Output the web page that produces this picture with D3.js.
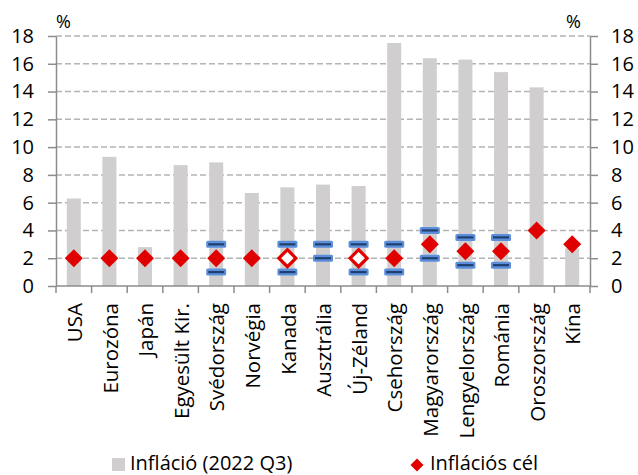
<!DOCTYPE html>
<html>
<head>
<meta charset="utf-8">
<script src="https://cdn.jsdelivr.net/npm/d3@7/dist/d3.min.js"></script>
<style>
  html, body { margin: 0; padding: 0; background: #fff; }
  svg { display: block; font-family: "Open Sans", sans-serif; }
</style>
</head>
<body>
<svg id="chart" width="638" height="475"></svg>
<script>
// Countries on the category axis
const categories = ["USA", "Eurozóna", "Japán", "Egyesült Kir.", "Svédország", "Norvégia",
  "Kanada", "Ausztrália", "Új-Zéland", "Csehország", "Magyarország", "Lengyelország",
  "Románia", "Oroszország", "Kína"];

// Inflation, 2022 Q3 (%)
const inflation = [6.3, 9.3, 2.8, 8.7, 8.9, 6.7, 7.1, 7.3, 7.2, 17.5, 16.4, 16.3, 15.4, 14.3, 2.7];

// Point inflation targets (solid marker)
const targetPoint = [2, 2, 2, 2, 2, 2, null, null, null, 2, 3, 2.5, 2.5, 4, 3];
// Midpoint of a target band (hollow marker)
const targetMid = [null, null, null, null, null, null, 2, null, 2, null, null, null, null, null, null];
// Tolerance band edges
const bandLow = [null, null, null, null, 1, null, 1, 2, 1, 1, 2, 1.5, 1.5, null, null];
const bandHigh = [null, null, null, null, 3, null, 3, 3, 3, 3, 4, 3.5, 3.5, null, null];

const yTicks = [0, 2, 4, 6, 8, 10, 12, 14, 16, 18];
const legendLabels = ["Infláció (2022 Q3)", "Inflációs cél"];

const svg = d3.select("#chart");
const plotLeft = 56, plotRight = 590, plotTop = 36, plotBottom = 286;

const x = d3.scaleBand().domain(categories).range([plotLeft, plotRight]).padding(0);
const y = d3.scaleLinear().domain([0, 18]).range([plotBottom, plotTop]);
const cx = c => x(c) + x.bandwidth() / 2;

const RED = "#e00000";
const BAR = "#d0cece";
const AXIS = "#8c8c8c";

// Dashed horizontal gridlines
svg.append("g")
  .selectAll("line")
  .data(yTicks.filter(t => t > 0))
  .join("line")
  .attr("x1", plotLeft).attr("x2", plotRight)
  .attr("y1", d => y(d)).attr("y2", d => y(d))
  .attr("stroke", "#b4b4b4")
  .attr("stroke-width", 1.5)
  .attr("stroke-dasharray", "6,3");

// Inflation bars
const barW = 14;
svg.append("g")
  .selectAll("rect")
  .data(categories.map((c, i) => ({ c, v: inflation[i] })))
  .join("rect")
  .attr("x", d => cx(d.c) - barW / 2)
  .attr("width", barW)
  .attr("y", d => y(d.v))
  .attr("height", d => y(0) - y(d.v))
  .attr("fill", BAR);

// Axes
const fontSize = 20;
const yLeft = svg.append("g")
  .attr("transform", `translate(${plotLeft},0)`)
  .call(d3.axisLeft(y).tickValues(yTicks).tickSize(8).tickPadding(14).tickSizeOuter(0));
const yRight = svg.append("g")
  .attr("transform", `translate(${plotRight},0)`)
  .call(d3.axisRight(y).tickValues(yTicks).tickSize(8).tickPadding(13).tickSizeOuter(0));
[yLeft, yRight].forEach(g => {
  g.select(".domain").attr("stroke", AXIS).attr("stroke-width", 1.5);
  g.selectAll(".tick line").attr("stroke", AXIS).attr("stroke-width", 1.5);
  g.selectAll(".tick text")
    .attr("fill", "#000")
    .style("font-size", fontSize + "px")
    .style("font-family", "'Open Sans', sans-serif");
});

// Category axis with ticks on the band boundaries
const xAxis = svg.append("g");
xAxis.append("line")
  .attr("x1", plotLeft).attr("x2", plotRight)
  .attr("y1", y(0)).attr("y2", y(0))
  .attr("stroke", AXIS).attr("stroke-width", 1.5);
xAxis.selectAll("line.tick")
  .data(categories.map(c => x(c)).concat([plotRight]))
  .join("line")
  .attr("class", "tick")
  .attr("x1", d => d).attr("x2", d => d)
  .attr("y1", y(0)).attr("y2", y(0) + 7)
  .attr("stroke", AXIS).attr("stroke-width", 1.5);
xAxis.selectAll("text")
  .data(categories)
  .join("text")
  .attr("transform", d => `translate(${cx(d) + 1},303) rotate(-90)`)
  .attr("text-anchor", "end")
  .attr("dy", "0.35em")
  .style("font-size", "20.5px")
  .attr("fill", "#000")
  .text(d => d);

// Unit labels
svg.append("text").attr("x", 56).attr("y", 28).style("font-size", "18px").text("%");
svg.append("text").attr("x", 566).attr("y", 28).style("font-size", "18px").text("%");

// Tolerance band edges
const bandData = [];
categories.forEach((c, i) => {
  if (bandLow[i] != null) bandData.push({ c, v: bandLow[i] });
  if (bandHigh[i] != null) bandData.push({ c, v: bandHigh[i] });
});
const bands = svg.append("g").selectAll("g").data(bandData).join("g")
  .attr("transform", d => `translate(${cx(d.c)},${y(d.v)})`);
bands.append("rect")
  .attr("x", -10).attr("y", -3.5).attr("width", 20).attr("height", 7)
  .attr("rx", 1.5)
  .attr("fill", "#5b8fdc");
bands.append("line")
  .attr("x1", -8).attr("x2", 8)
  .attr("stroke", "#1f3f6e").attr("stroke-width", 2.2);

// Target markers
const diamond = r => `M0,${-r}L${r},0L0,${r}L${-r},0Z`;
svg.append("g").selectAll("path")
  .data(categories.map((c, i) => ({ c, v: targetPoint[i] })).filter(d => d.v != null))
  .join("path")
  .attr("d", diamond(9))
  .attr("transform", d => `translate(${cx(d.c)},${y(d.v)})`)
  .attr("fill", RED);
svg.append("g").selectAll("path")
  .data(categories.map((c, i) => ({ c, v: targetMid[i] })).filter(d => d.v != null))
  .join("path")
  .attr("d", diamond(8.5))
  .attr("transform", d => `translate(${cx(d.c)},${y(d.v)})`)
  .attr("fill", "#fff")
  .attr("stroke", RED)
  .attr("stroke-width", 3.2);

// Legend
const legend = svg.append("g").style("font-size", fontSize + "px");
legend.append("rect").attr("x", 112).attr("y", 458).attr("width", 13).attr("height", 13).attr("fill", BAR);
legend.append("text").attr("x", 130).attr("y", 470).text(legendLabels[0]);
legend.append("path").attr("d", diamond(6.5)).attr("transform", "translate(417,465)").attr("fill", RED);
legend.append("text").attr("x", 430).attr("y", 470).text(legendLabels[1]);
</script>
</body>
</html>
